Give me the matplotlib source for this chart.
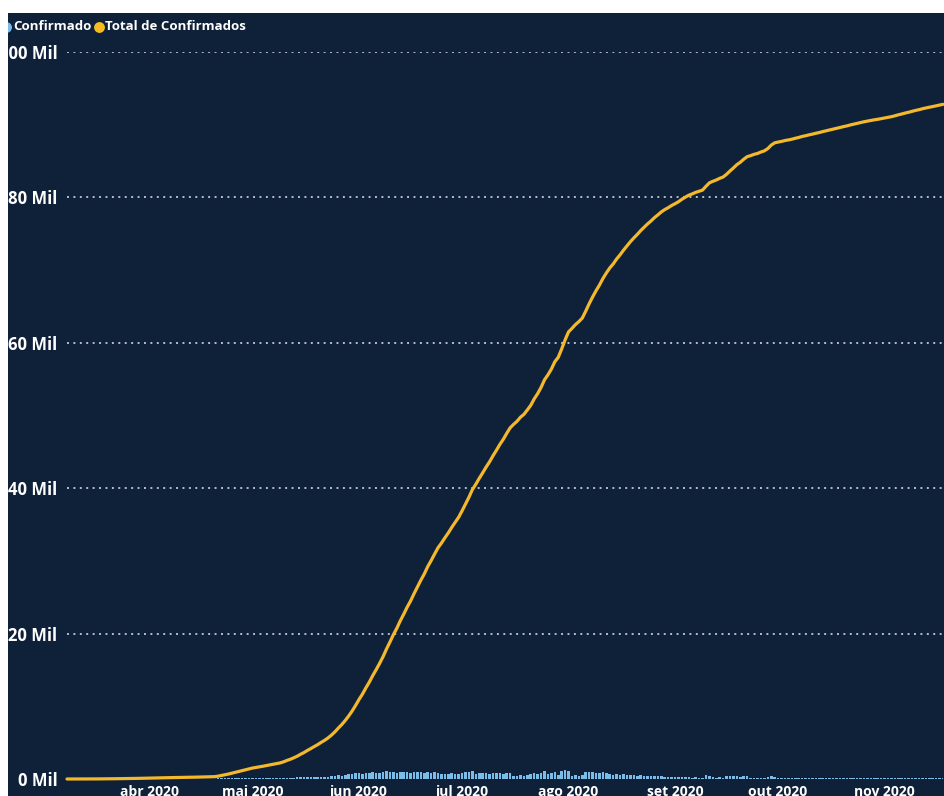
import numpy as np
import pandas as pd
import matplotlib
matplotlib.use("Agg")
import matplotlib.pyplot as plt

# casos confirmados por dia, a partir de 08/03/2020
confirmado = [
    0, 0, 0, 1, 0, 2, 1, 3, 2, 4, 3, 5, 4, 6, 5, 8, 6, 7, 9, 8,
    10, 6, 12, 9, 11, 8, 14, 10, 13, 12,
    8, 10, 7, 12, 9, 6, 11, 8, 10, 13, 9, 15, 12, 14,
    70, 95, 110, 85, 120,
    130, 105, 140, 95, 125, 110,
    80, 95, 70, 100, 85, 90, 75, 105,
    150, 190, 165, 200,
    220, 270, 240, 290, 260, 280,
    260, 310, 280, 330,
    390, 450, 520, 480, 560, 620,
    680, 760, 820,
    740, 860, 790, 900, 820, 860,
    920, 1050, 960, 1010,
    880, 1020, 910, 970, 850, 1000, 930,
    940, 860, 1010, 830, 900, 860,
    650, 720, 680, 760, 690, 700,
    880, 950, 920, 1050,
    740, 810, 760, 790,
    720, 830, 760, 810, 700, 820, 760,
    480, 420, 560, 390, 610, 640,
    880, 720, 860, 1050, 680, 790, 1010, 610,
    1150, 1260, 1090,
    480, 520, 410, 490,
    950, 1020, 930,
    860, 780, 900, 760,
    690, 560, 680, 570,
    640, 590, 570,
    520, 480, 530, 470,
    450, 400, 460, 380, 410,
    320, 260, 300, 250, 270,
    340, 290, 270,
    180, 210, 150, 160,
    520, 480,
    210, 180, 230, 180,
    380, 450, 420, 450,
    330, 420, 350,
    140, 180, 120, 200, 160,
    310, 480, 310,
    110, 90, 120, 80, 100,
    130, 110, 140, 100, 120, 100,
    120, 100, 130, 110, 120, 100, 120,
    110, 120, 100, 130, 110, 120, 100, 110,
    90, 80, 100, 70, 90, 90, 80, 100,
    120, 140, 110, 130,
    110, 130, 120, 100, 130, 110,
    100, 90, 110, 100, 100,
]
datas = pd.date_range("2020-03-08", periods=len(confirmado), freq="D")
total_confirmados = np.cumsum(confirmado)

meses = pd.to_datetime(["2020-04-01", "2020-05-01", "2020-06-01", "2020-07-01",
                        "2020-08-01", "2020-09-01", "2020-10-01", "2020-11-01"])
rotulos_meses = ["abr 2020", "mai 2020", "jun 2020", "jul 2020",
                 "ago 2020", "set 2020", "out 2020", "nov 2020"]
y_ticks = [0, 20000, 40000, 60000, 80000, 100000]
y_rotulos = ["0 Mil", "20 Mil", "40 Mil", "60 Mil", "80 Mil", "100 Mil"]

fundo = "#0e2139"
azul = "#7cbce8"
amarelo = "#f4b82c"
W, H = 945, 796

plt.rcParams["font.family"] = ["Open Sans", "DejaVu Sans"]

fig = plt.figure(figsize=(W / 100, H / 100), dpi=100, facecolor="white")

# painel escuro
ax_bg = fig.add_axes([8 / W, 0, (W - 8) / W, (H - 13) / H])
ax_bg.set_facecolor(fundo)
ax_bg.set_xticks([])
ax_bg.set_yticks([])
for s in ax_bg.spines.values():
    s.set_visible(False)

# legenda
ax_bg.plot([6 / W], [1 - 27 / H], "o", ms=6.8, color=azul, transform=fig.transFigure)
ax_bg.text(13 / W, 1 - 27 / H, "Confirmado", transform=fig.transFigure, color="white",
           fontsize=9.5, fontweight="bold", va="center", ha="left")
ax_bg.plot([99 / W], [1 - 27 / H], "o", ms=6.8, color="#f5bd1f", transform=fig.transFigure)
ax_bg.text(105 / W, 1 - 27 / H, "Total de Confirmados", transform=fig.transFigure,
           color="white", fontsize=9.5, fontweight="bold", va="center", ha="left")

ax = fig.add_axes([67 / W, 17 / H, (943 - 67) / W, (779 - 52) / H])
ax.patch.set_alpha(0)

ax.bar(datas, confirmado, width=0.75, color=azul, zorder=2)
ax.plot(datas, total_confirmados, color=amarelo, lw=2.3, zorder=3,
        solid_capstyle="round", clip_on=False)

ax.set_xlim(datas[0], datas[-1])
ax.set_ylim(0, 100000)
ax.set_yticks(y_ticks)
ax.set_yticklabels(y_rotulos)
ax.set_xticks(meses)
ax.set_xticklabels(rotulos_meses)
ax.tick_params(axis="y", length=0, pad=7, labelcolor="white", labelsize=12)
ax.tick_params(axis="x", length=0, pad=4, labelcolor="white", labelsize=10)
for lab in ax.get_yticklabels() + ax.get_xticklabels():
    lab.set_fontweight("bold")

for v in y_ticks[1:]:
    ax.axhline(v, color="#b3bfcd", lw=1.4, ls=(0, (1, 2.3)), zorder=1)

for s in ax.spines.values():
    s.set_visible(False)

fig.savefig("out.png", dpi=100, facecolor="white")
